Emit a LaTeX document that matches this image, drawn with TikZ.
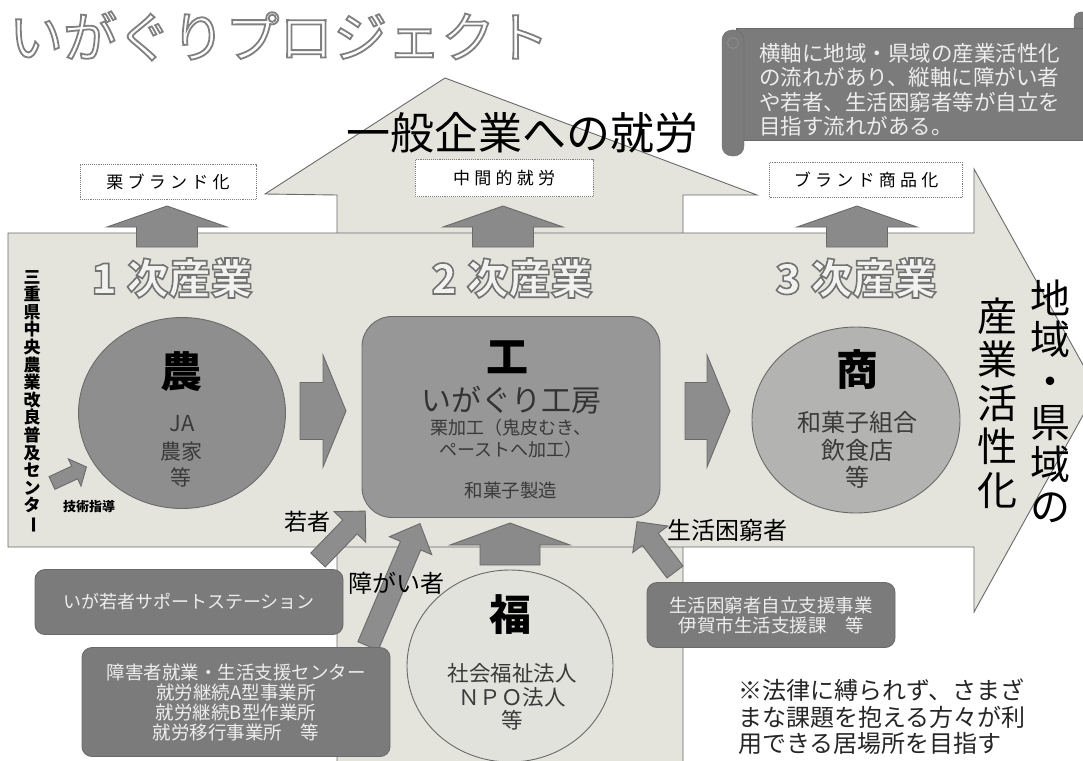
\documentclass[tikz,border=0pt]{standalone}
\usepackage{fontspec}
\setmainfont{Noto Sans CJK JP}
\usepackage{graphicx}
\usetikzlibrary{shapes.geometric}
\definecolor{band}{HTML}{E4E4DD}
\definecolor{edge}{HTML}{6A6A6A}
\definecolor{nouc}{HTML}{8E8E8E}
\definecolor{kouc}{HTML}{979797}
\definecolor{shouc}{HTML}{B3B3B1}
\definecolor{fukuc}{HTML}{E2E2DC}
\definecolor{darkc}{HTML}{7B7B7B}
\definecolor{arrc}{HTML}{8D8D8D}
\definecolor{uparrc}{HTML}{8A8A8A}
\definecolor{ltxt}{HTML}{EDEDED}
\definecolor{mtxt}{HTML}{3A3A3A}
\newcommand\fs[2]{\fontsize{#1}{#2}\selectfont}
% hollow (outlined) text: #1 line width, #2 stroke rgb, #3 fill rgb, #4 text
\newcommand\hollow[4]{\special{pdf:literal direct 2 Tr #1 w #2 RG #3 rg}#4\special{pdf:literal direct 0 Tr 0 g 0 G}}
\newcommand\blockarr[8]{%
  \begin{scope}[shift={(#2,#3)},rotate=#4]
    \draw[#1] (0,-#6/2) -- ({#5-#8},-#6/2) -- ({#5-#8},-#7/2) -- (#5,0)
      -- ({#5-#8},#7/2) -- ({#5-#8},#6/2) -- (0,#6/2) -- cycle;
  \end{scope}}
\tikzset{
  outl/.style={draw=edge, line width=0.9pt},
  tagbox/.style={draw=gray, densely dotted, line width=0.9pt, fill=white, inner sep=0pt,
    font={\fs{17}{20}\addfontfeatures{LetterSpace=25}}},
  uparr/.style={fill=uparrc, draw=edge, line width=0.9pt},
  sidearr/.style={fill=arrc, draw=edge, line width=0.9pt},
  dbox/.style={rounded corners=10pt, fill=darkc, draw=edge, line width=0.9pt, text=ltxt, align=center, inner sep=0pt},
  bigch/.style={font={\bfseries\fs{42}{44}}, inner sep=0pt},
  sub/.style={text=mtxt, align=center, inner sep=0pt},
  lbl/.style={inner sep=0pt, font={\fs{24}{28}}}
}
\begin{document}
\begin{tikzpicture}[x=1pt,y=-1pt]
\useasboundingbox (0,0) rectangle (1083,760);
\clip (0,0) rectangle (1083,760);
\fill[white] (0,0) rectangle (1083,760);

% big up arrow and band arrow
\draw[outl, fill=band] (337,780) -- (337,195) -- (265,194) -- (445,78) -- (757,195) -- (683,195) -- (683,780) -- cycle;
\draw[outl, fill=band] (8,233) -- (974,233) -- (974,169) -- (1097,390) -- (974,612) -- (974,547) -- (8,547) -- cycle;

% title
\node[anchor=west, inner sep=0pt, font={\fs{54}{60}}] (title) at (9,36) {\hollow{1.8}{0.5 0.5 0.5}{1 1 1}{いがぐりプロジェクト}};

\node[inner sep=0pt, font={\fs{44}{50}}] (shuro) at (522,133) {一般企業への就労};

% scroll
\draw[fill=darkc, draw=edge, rounded corners=7pt] (1074,12) rectangle (1098,40);
\draw[fill=darkc, draw=edge] (736,28) rectangle (1095,140);
\draw[fill=darkc, draw=edge, rounded corners=10pt] (722,30) rectangle (744,156);
\draw[black!45, line width=0.9pt] (733,43) circle (5.5);
\node[anchor=north west, align=left, text=ltxt, font={\fs{21.5}{24.5}}, inner sep=0pt] (scrolltxt) at (759,43)
  {横軸に地域・県域の産業活性化\\の流れがあり、縦軸に障がい者\\や若者、生活困窮者等が自立を\\目指す流れがある。};

% tag boxes
\node[tagbox, minimum width=176, minimum height=35] (kuri) at (168,182) {栗ブランド化};
\node[tagbox, minimum width=178, minimum height=37] (chukan) at (504,178) {中間的就労};
\node[tagbox, minimum width=193, minimum height=35] (brand) at (866,180) {ブランド商品化};

% small up arrows
\blockarr{uparr}{167}{247}{90}{41}{61}{120}{21}
\blockarr{uparr}{503}{247}{90}{41}{61}{120}{21}
\blockarr{uparr}{857}{247}{90}{41}{61}{120}{21}

% sector headings
\node[inner sep=0pt, font={\bfseries\fs{42}{46}}] (ind1) at (172,278) {\hollow{1.6}{0.45 0.45 0.45}{0.95 0.95 0.94}{1 次産業}};
\node[inner sep=0pt, font={\bfseries\fs{42}{46}}] (ind2) at (512,278) {\hollow{1.6}{0.45 0.45 0.45}{0.95 0.95 0.94}{2 次産業}};
\node[inner sep=0pt, font={\bfseries\fs{42}{46}}] (ind3) at (856,278) {\hollow{1.6}{0.45 0.45 0.45}{0.95 0.95 0.94}{3 次産業}};

% left vertical text
\node[inner sep=0pt, align=center, font={\bfseries\fs{17}{17.6}}] (center) at (32,402)
  {三\\重\\県\\中\\央\\農\\業\\改\\良\\普\\及\\セ\\ン\\タ\\\rotatebox[origin=c]{-90}{ー}};

% 農
\node[ellipse, minimum width=207, minimum height=191, fill=nouc, draw=edge, line width=0.9pt] (nou) at (182,413) {};
\node[bigch] (nouch) at (181,372) {農};
\node[sub, font={\fs{22}{26}}] (ja) at (182,424) {JA};
\node[sub, font={\fs{21}{26}}] (nouka) at (181,465) {農家\\等};

% 技術指導
\blockarr{sidearr}{52}{483}{25}{38}{14}{30}{13}
\node[inner sep=0pt, font={\bfseries\fs{13}{15}}] (gijutsu) at (89,507) {技術指導};

% 工
\node[rectangle, rounded corners=30pt, minimum width=298, minimum height=201, fill=kouc, draw=edge, line width=0.9pt] (kou) at (511,417) {};
\node[bigch] (kouch) at (507,357) {工};
\node[inner sep=0pt, text=black!80, font={\fs{30}{34}}] (kobo) at (511,400) {いがぐり工房};
\node[sub, font={\fs{18}{22}}] (kako) at (511,439) {栗加工（鬼皮むき、\\ペーストへ加工）};
\node[sub, font={\fs{18.5}{22}}] (wagashi) at (511,490) {和菓子製造};

% 商
\node[ellipse, minimum width=208, minimum height=186, fill=shouc, draw=edge, line width=0.9pt] (shou) at (856,420) {};
\node[bigch] (shouch) at (857,370) {商};
\node[sub, font={\fs{24}{27.5}}] (shoutxt) at (857,450) {和菓子組合\\飲食店\\等};

% side arrows
\blockarr{sidearr}{300}{411}{0}{46}{57}{112}{23}
\blockarr{sidearr}{685}{411}{0}{45}{57}{112}{23}

% 福
\node[ellipse, minimum width=206, minimum height=192, fill=fukuc, draw=edge, line width=0.9pt] (fuku) at (510,666) {};
\node[bigch] (fukuch) at (510,615) {福};
\node[sub, font={\fs{21.5}{23.5}}] (fukutxt) at (512,697) {社会福祉法人\\ＮＰＯ法人\\等};

% arrows into 工
\blockarr{uparr}{510}{565}{90}{42}{60}{120}{22}
\blockarr{sidearr}{318}{560}{46}{68}{20}{44}{22}
\blockarr{sidearr}{368}{646}{67}{133}{22}{46}{24}
\blockarr{sidearr}{675}{572}{127}{63}{20}{44}{22}

\node[lbl, font={\fs{23}{26}}] (waka) at (307,522) {若者};
\node[lbl] (shogai) at (396,583) {障がい者};
\node[lbl] (konkyu) at (727,530) {生活困窮者};

% dark boxes
\node[dbox, minimum width=308, minimum height=65, font={\fs{18}{22}}] (sapo) at (189,602) {いが若者サポートステーション};
\node[dbox, minimum width=308, minimum height=109, font={\fs{18.5}{20}}] (shogaibox) at (236,702)
  {障害者就業・生活支援センター\\就労継続A型事業所\\就労継続B型作業所\\就労移行事業所　等};
\node[dbox, minimum width=248, minimum height=65, font={\fs{18.5}{20}}] (seikatsu) at (771,615)
  {生活困窮者自立支援事業\\伊賀市生活支援課　等};

% right vertical texts
\node[inner sep=0pt, align=center, font={\fs{40}{41.6}}] (chiiki) at (1050,401) {地\\域\\・\\県\\域\\の};
\node[inner sep=0pt, align=center, font={\fs{40}{43.5}}] (sangyo) at (997,403) {産\\業\\活\\性\\化};

% note
\node[anchor=north west, align=left, inner sep=0pt, text=black!85, font={\fs{24}{26.5}}] (note) at (738,679)
  {※法律に縛られず、さまざ\\まな課題を抱える方々が利\\用できる居場所を目指す};
\end{tikzpicture}
\end{document}
